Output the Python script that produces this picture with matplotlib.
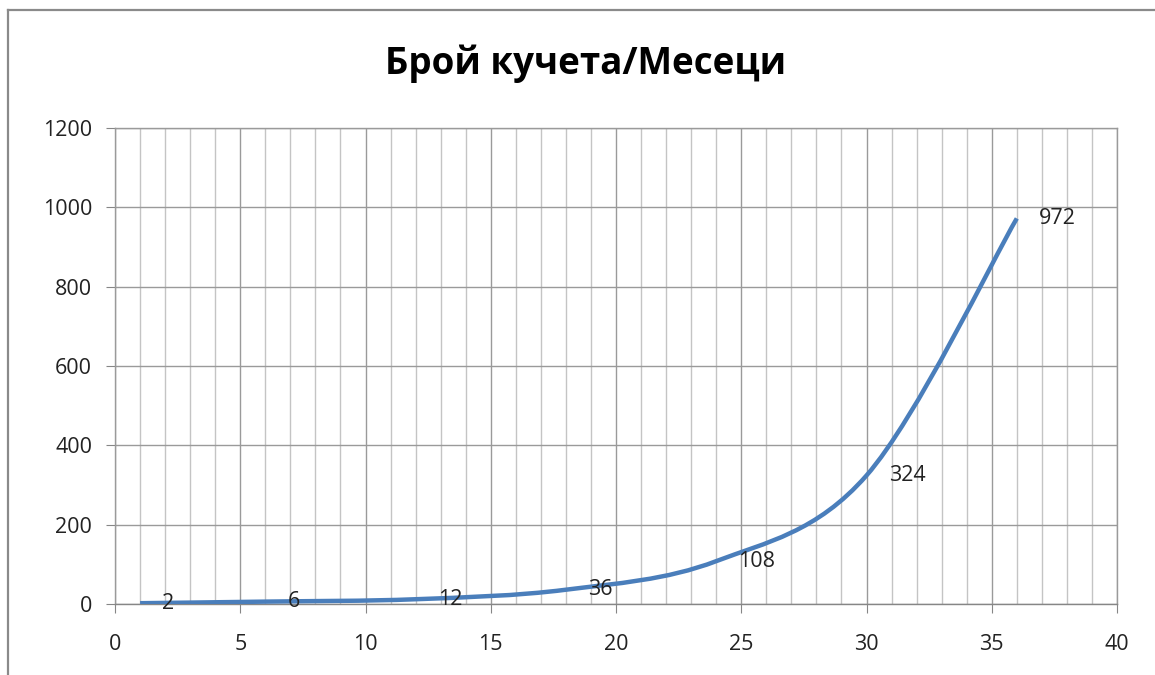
import matplotlib
matplotlib.use("Agg")
import matplotlib.pyplot as plt
from matplotlib.path import Path
from matplotlib.patches import PathPatch
from matplotlib.lines import Line2D
from matplotlib.ticker import MultipleLocator

# data: months and number of dogs
months = [1, 6, 12, 18, 24, 30, 36]
dogs = [2, 6, 12, 36, 108, 324, 972]
labels = ["2", "6", "12", "36", "108", "324", "972"]
title = "Брой кучета/Месеци"

plt.rcParams['font.family'] = ['Open Sans', 'DejaVu Sans']

fig = plt.figure(figsize=(11.55, 6.75), dpi=100)
ax = fig.add_axes([0.0996, 0.1052, 0.8675, 0.7052])

ax.set_xlim(0, 40)
ax.set_ylim(0, 1200)
ax.xaxis.set_major_locator(MultipleLocator(5))
ax.xaxis.set_minor_locator(MultipleLocator(1))
ax.yaxis.set_major_locator(MultipleLocator(200))

ax.grid(which='major', axis='x', color='#9a9a9a', lw=1)
ax.grid(which='minor', axis='x', color='#c4c4c4', lw=1)
ax.grid(which='major', axis='y', color='#9a9a9a', lw=1)
ax.set_axisbelow(True)

for s in ax.spines.values():
    s.set_color('#9a9a9a')
    s.set_linewidth(1)
ax.spines['bottom'].set_color('#868686')

ax.tick_params(axis='both', which='major', direction='out', length=6.5,
               color='#868686', labelsize=15.5, labelcolor='#222222')
ax.tick_params(axis='x', which='major', pad=15)
ax.tick_params(axis='y', which='major', pad=10)
ax.tick_params(axis='x', which='minor', length=0)

# smoothed line like Excel (Catmull-Rom as cubic Bezier segments)
pts = list(zip(months, dogs))
verts = [pts[0]]
codes = [Path.MOVETO]
n = len(pts)
for i in range(n - 1):
    p0 = pts[i - 1] if i > 0 else pts[i]
    p1 = pts[i]
    p2 = pts[i + 1]
    p3 = pts[i + 2] if i + 2 < n else pts[i + 1]
    c1 = (p1[0] + (p2[0] - p0[0]) / 6, p1[1] + (p2[1] - p0[1]) / 6)
    c2 = (p2[0] - (p3[0] - p1[0]) / 6, p2[1] - (p3[1] - p1[1]) / 6)
    verts += [c1, c2, p2]
    codes += [Path.CURVE4] * 3
patch = PathPatch(Path(verts, codes), facecolor='none', edgecolor='#4a7ebb',
                  lw=3.2, capstyle='butt', zorder=3)
ax.add_patch(patch)

for x, y, t in zip(months, dogs, labels):
    ax.annotate(t, (x, y), xytext=(16, 0), textcoords='offset points',
                ha='left', va='center', fontsize=15.5, color='#222222', zorder=4)

fig.text(0.507, 0.905, title, ha='center', va='center', fontsize=26.5,
         fontweight='bold', color='black')

# chart area border
fig.add_artist(Line2D([0.007, 0.007], [0.0, 0.985], transform=fig.transFigure,
                      color='#8a8a8a', lw=1.6))
fig.add_artist(Line2D([0.007, 1.0], [0.985, 0.985], transform=fig.transFigure,
                      color='#8a8a8a', lw=1.6))

fig.savefig('out.png', dpi=100)
